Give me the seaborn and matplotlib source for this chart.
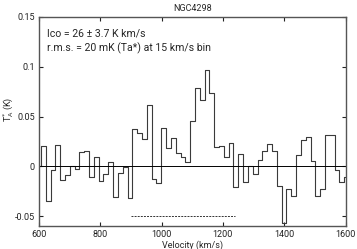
import numpy as np
import pandas as pd
import matplotlib
matplotlib.use("Agg")
import matplotlib.pyplot as plt
import seaborn as sns

# spectrum (histogram steps), bin start velocities from v_start with width bin_w
v_start = 590.8
bin_w = 15.7
ta = [0.0,
      0.020, -0.035, -0.004, 0.021, -0.014, -0.009, 0.000, -0.003, 0.014, 0.015,
      -0.011, 0.009, -0.015, -0.008, 0.004, -0.031, -0.007, -0.001, -0.032, 0.037,
      0.033, 0.027, 0.0615, -0.013, -0.017, 0.038, 0.018, 0.028, 0.013, 0.009,
      0.004, 0.046, 0.079, 0.067, 0.097, 0.074, 0.019, 0.020, 0.009, 0.023,
      -0.021, 0.012, -0.016, 0.000, -0.008, 0.006, 0.015, 0.022, 0.015, -0.020,
      -0.057, -0.023, -0.030, 0.011, 0.026, 0.029, 0.005, -0.030, -0.023, 0.031,
      0.031, -0.004, -0.016, -0.011]

# integration range shown as dashed line
int_range = [900, 1240]
int_level = -0.05

x_ticks = [600, 800, 1000, 1200, 1400, 1600]
y_ticks = [-0.05, 0, 0.05, 0.1, 0.15]
y_ticklabels = ["-0.05", "0", "0.05", "0.1", "0.15"]

edges = v_start + bin_w * np.arange(len(ta) + 1)
df = pd.DataFrame({"velocity": edges, "ta": ta + [ta[-1]]})

sns.set_style("ticks")
plt.rcParams['font.family'] = ['Roboto', 'DejaVu Sans']

fig = plt.figure(figsize=(3.57, 2.49), dpi=100)
ax = fig.add_axes([0.109, 0.092, 0.859, 0.840])

sns.lineplot(data=df, x="velocity", y="ta", drawstyle="steps-post",
             color="#3a3a3a", linewidth=0.8, ax=ax)
ax.axhline(0, color="black", linewidth=0.7)
ax.plot(int_range, [int_level, int_level], color="#333333",
        linestyle=(0, (2, 1.2)), linewidth=0.7)

ax.set_xlim(600, 1600)
ax.set_ylim(-0.06, 0.15)
ax.set_xticks(x_ticks)
ax.set_yticks(y_ticks)
ax.set_yticklabels(y_ticklabels)
ax.tick_params(direction="in", length=3, width=0.8, labelsize=6.5,
               top=True, right=True, pad=3, colors="#222222")
for s in ax.spines.values():
    s.set_linewidth(1.0)
    s.set_color("#555555")

ax.set_xlabel("Velocity (km/s)", fontsize=6.5, labelpad=1)
ax.set_ylabel("T$_{\\rm A}^{*}$ (K)", fontsize=6.5)
ax.yaxis.set_label_coords(-0.074, 0.56)
ax.set_title("NGC4298", fontsize=6.5, pad=4)

ax.text(0.026, 0.923, "Ico = 26 \u00b1 3.7 K km/s", transform=ax.transAxes,
        fontsize=7.6, va="center")
ax.text(0.026, 0.852, "r.m.s. = 20 mK (Ta*) at 15 km/s bin", transform=ax.transAxes,
        fontsize=7.6, va="center")

fig.savefig("out.png", dpi=100)
